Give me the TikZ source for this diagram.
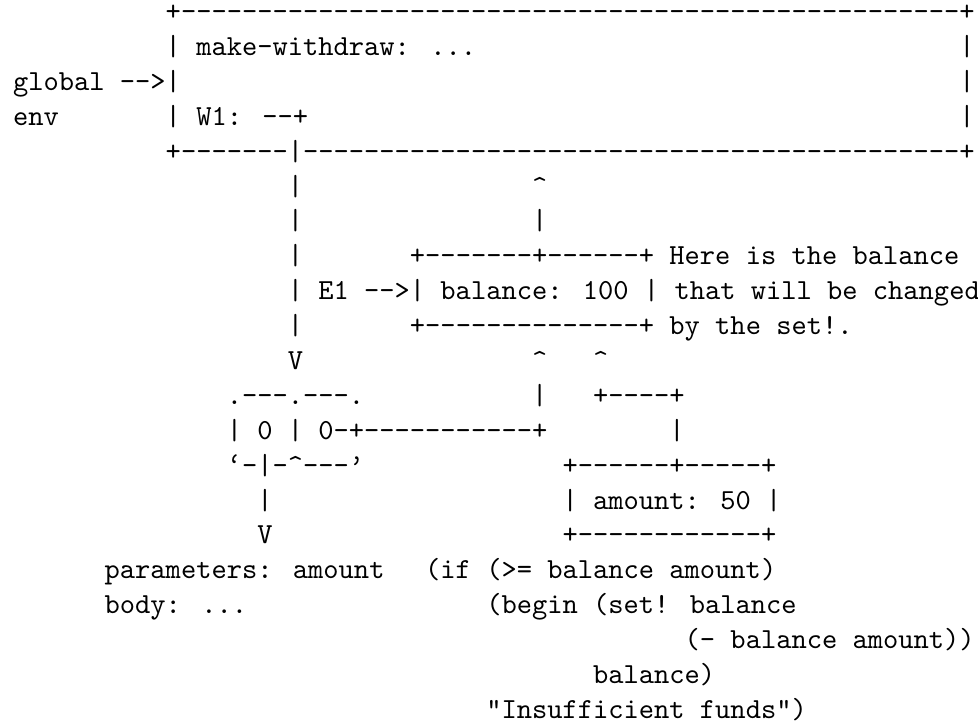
\documentclass[tikz,border=0pt]{standalone}
\usepackage{tikz}

% a run of n hyphens, for the horizontal box edges
\ExplSyntaxOn
\cs_new:Npn \hrun #1 { \prg_replicate:nn {#1} {-} }
\ExplSyntaxOff
\newcommand\caret{\textasciicircum}

\begin{document}
\begin{tikzpicture}[
    x=5.25pt, y=-12pt,
    tt/.style={anchor=base west, inner sep=0pt, outer sep=0pt,
               font=\ttfamily\fontsize{10}{12}\selectfont, text=black}
  ]
  % page frame: column 0 starts 4.51pt from the left, row 0 baseline 7.08pt from the top
  \useasboundingbox (-4.51pt,7.08pt) rectangle (331.89pt,-243.32pt);

  % global environment frame
  \node[tt] (gtop)   at (10,0) {+\hrun{51}+};
  \node[tt] (gmw)    at (10,1) {| make-withdraw: ...};
  \node[tt] (gr1)    at (62,1) {|};
  \node[tt] (glabel) at (0,2)  {global -->|};
  \node[tt] (gr2)    at (62,2) {|};
  \node[tt] (genv)   at (0,3)  {env};
  \node[tt] (gw1)    at (10,3) {| W1: --+};
  \node[tt] (gr3)    at (62,3) {|};
  \node[tt] (gbot)   at (10,4) {+-------|\hrun{43}+};

  % pointer down from W1, pointer up from E1
  \node[tt] (w1a) at (18,5) {|};
  \node[tt] (e1a) at (34,5) {\caret};
  \node[tt] (w1b) at (18,6) {|};
  \node[tt] (e1b) at (34,6) {|};

  % frame E1
  \node[tt] (w1c)  at (18,7) {|};
  \node[tt] (etop) at (26,7) {+-------+------+ Here is the balance};
  \node[tt] (emid) at (18,8) {| E1 -->| balance: 100 | that will be changed};
  \node[tt] (w1d)  at (18,9) {|};
  \node[tt] (ebot) at (26,9) {+\hrun{14}+ by the set!.};

  \node[tt] (w1v)  at (18,10) {V};
  \node[tt] (eup1) at (34,10) {\caret};
  \node[tt] (eup2) at (38,10) {\caret};

  % procedure object (pair of pointers)
  \node[tt] (ptop) at (14,11) {.---.---.};
  \node[tt] (pl1)  at (34,11) {|};
  \node[tt] (al1)  at (38,11) {+----+};
  \node[tt] (pmid) at (14,12) {| 0 | 0-+\hrun{11}+};
  \node[tt] (al2)  at (43,12) {|};
  \node[tt] (pbot) at (14,13) {‘-|-\caret---’};

  % frame holding amount
  \node[tt] (atop) at (36,13) {+------+-----+};
  \node[tt] (pv1)  at (16,14) {|};
  \node[tt] (amid) at (36,14) {| amount: 50 |};
  \node[tt] (pv2)  at (16,15) {V};
  \node[tt] (abot) at (36,15) {+\hrun{12}+};

  % parameters and body of the procedure
  \node[tt] (par)   at (6,16)  {parameters: amount};
  \node[tt] (code1) at (27,16) {(if (>= balance amount)};
  \node[tt] (body)  at (6,17)  {body: ...};
  \node[tt] (code2) at (31,17) {(begin (set! balance};
  \node[tt] (code3) at (44,18) {(- balance amount))};
  \node[tt] (code4) at (38,19) {balance)};
  \node[tt] (code5) at (31,20) {"Insufficient funds")};
\end{tikzpicture}
\end{document}
